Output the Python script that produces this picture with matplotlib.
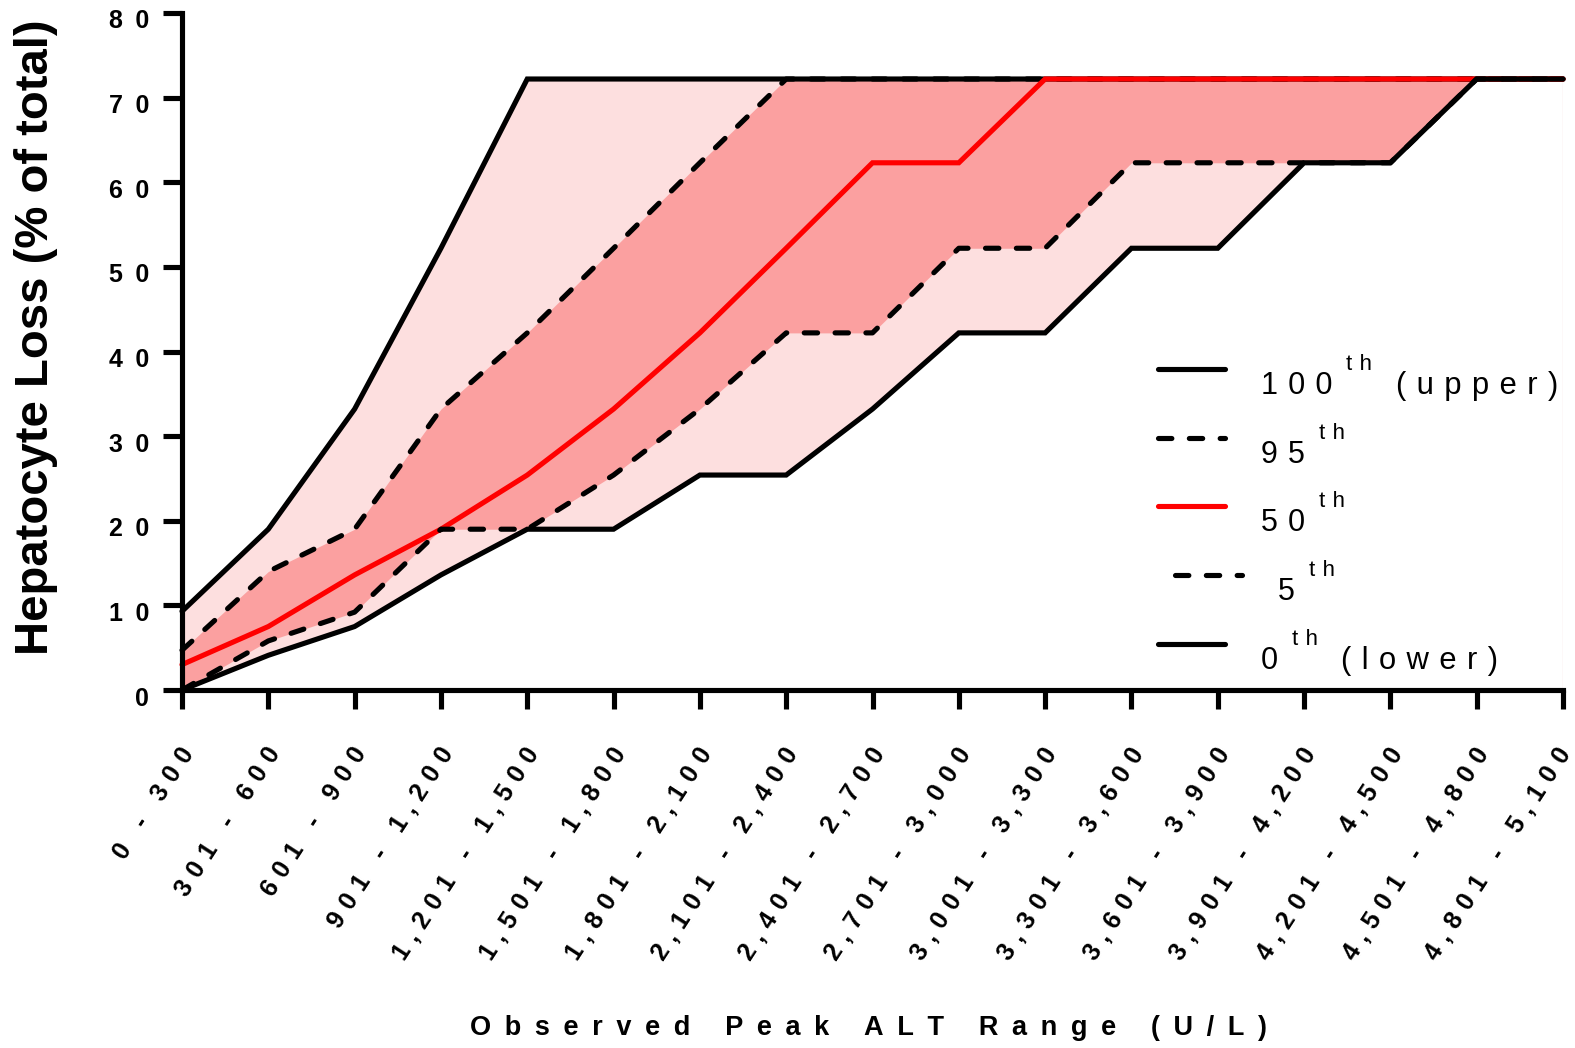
import matplotlib
matplotlib.use("Agg")
import matplotlib.pyplot as plt
import matplotlib.transforms as mtransforms
from matplotlib.lines import Line2D

plt.rcParams['font.family'] = ['Liberation Sans', 'DejaVu Sans']

# ---------------- data ----------------
categories = ["0 - 300", "301 - 600", "601 - 900", "901 - 1,200", "1,201 - 1,500",
              "1,501 - 1,800", "1,801 - 2,100", "2,101 - 2,400", "2,401 - 2,700",
              "2,701 - 3,000", "3,001 - 3,300", "3,301 - 3,600", "3,601 - 3,900",
              "3,901 - 4,200", "4,201 - 4,500", "4,501 - 4,800", "4,801 - 5,100"]

p100 = [9.3, 19.0, 33.2, 52.2, 72.2, 72.2, 72.2, 72.2, 72.2, 72.2, 72.2, 72.2, 72.2, 72.2, 72.2, 72.2, 72.2]
p95 = [4.7, 14.0, 19.0, 33.2, 42.2, 52.2, 62.3, 72.2, 72.2, 72.2, 72.2, 72.2, 72.2, 72.2, 72.2, 72.2, 72.2]
p50 = [3.0, 7.5, 13.6, 19.0, 25.4, 33.2, 42.2, 52.2, 62.3, 62.3, 72.2, 72.2, 72.2, 72.2, 72.2, 72.2, 72.2]
p5 = [0.0, 5.8, 9.2, 19.0, 19.0, 25.4, 33.2, 42.2, 42.2, 52.2, 52.2, 62.3, 62.3, 62.3, 62.3, 72.2, 72.2]
p0 = [0.0, 4.1, 7.5, 13.6, 19.0, 19.0, 25.4, 25.4, 33.2, 42.2, 42.2, 52.2, 52.2, 62.3, 62.3, 72.2, 72.2]

y_ticks = [0, 10, 20, 30, 40, 50, 60, 70, 80]
legend_numbers = ["100", "95", "50", "5", "0"]
legend_suffixes = ["(upper)", "", "", "", "(lower)"]
x_title = "Observed Peak ALT Range (U/L)"
y_title = "Hepatocyte Loss (% of total)"

# ---------------- style ----------------
W, H = 1575, 1048
LIGHT = '#FDDFDF'
DARK = '#FBA0A0'
LW = 3.7
DASH = (0, (2.6, 3.4))


def spaced(s, ch):
    return ch.join(s)


fig = plt.figure(figsize=(W / 100, H / 100), dpi=100)
ax = fig.add_axes([182 / W, 1 - 690 / H, (1563 - 182) / W, (690 - 13) / H])

xs = list(range(len(categories)))

ax.fill_between(xs, p0, p100, color=LIGHT, lw=0, zorder=1)
ax.fill_between(xs, p5, p95, color=DARK, lw=0, zorder=2)
ax.vlines(xs[-1], 0, p100[-1], color='#F6C8C8', lw=0.9, zorder=2)

series = [
    (p100, 'black', '-'),
    (p95, 'black', DASH),
    (p50, '#FF0000', '-'),
    (p5, 'black', DASH),
    (p0, 'black', '-'),
]
for i, (vals, col, ls) in enumerate(series):
    ax.plot(xs, vals, color=col, lw=LW, linestyle=ls, dash_capstyle='round',
            solid_capstyle='round', solid_joinstyle='miter', zorder=3 + i, clip_on=False)

ax.set_xlim(0, len(categories) - 1)
ax.set_ylim(0, 80)
for s in ['top', 'right']:
    ax.spines[s].set_visible(False)
for s in ['left', 'bottom']:
    ax.spines[s].set_linewidth(LW)
    ax.spines[s].set_zorder(10)

ax.tick_params(axis='both', direction='out', width=LW, length=13.5)
ax.tick_params(axis='y', pad=10)
ax.tick_params(axis='x', pad=29.5)

ax.set_yticks(y_ticks)
ax.set_yticklabels([spaced(str(v), '\u2002') for v in y_ticks],
                   fontsize=18, fontweight='bold')
yoff = mtransforms.ScaledTranslation(0, -6 / 100, fig.dpi_scale_trans)
for lab in ax.get_yticklabels():
    lab.set_transform(lab.get_transform() + yoff)

ax.set_xticks(xs)
ax.set_xticklabels([spaced(c, '\u2004') for c in categories], fontsize=18,
                   fontweight='bold', rotation=57, rotation_mode='anchor',
                   ha='right', va='center')
xlabels = ax.get_xticklabels()
for k, lab in enumerate(xlabels):
    dx = 3 if k == len(xlabels) - 1 else 7
    lab.set_transform(lab.get_transform()
                      + mtransforms.ScaledTranslation(dx / 100, 0, fig.dpi_scale_trans))

ax.set_xlabel(spaced(x_title, '\u2002'), fontsize=19.5, fontweight='bold', va='center')
ax.xaxis.set_label_coords((868 - 182) / 1381, (690 - 1028) / 677)
ax.set_ylabel(y_title, fontsize=34, fontweight='bold', va='center')
ax.yaxis.set_label_coords((36 - 182) / 1381, (690 - 337) / 677)

# ---------------- legend (drawn manually) ----------------
row_y = [369, 438, 506, 575, 644]
for i, (num, suf) in enumerate(zip(legend_numbers, legend_suffixes)):
    y = row_y[i]
    shift = 17 if i == 3 else 0
    col, ls = series[i][1], series[i][2]
    ln = Line2D([(1157.5 + shift) / W, (1224.5 + shift) / W], [1 - y / H, 1 - y / H],
                transform=fig.transFigure, color=col, lw=LW, linestyle=ls,
                dash_capstyle='round', solid_capstyle='round')
    fig.add_artist(ln)
    base = y + 25
    t1 = fig.text((1261 + shift) / W, 1 - base / H, spaced(num, '\u2004'), fontsize=22,
                  ha='left', va='baseline')
    t2 = ax.annotate(spaced('th', '\u2004'), xy=(1, H - base + 24), xycoords=(t1, 'figure pixels'),
                     xytext=(14, 0), textcoords='offset pixels', fontsize=16,
                     ha='left', va='baseline', annotation_clip=False)
    if suf:
        ax.annotate(spaced(suf, '\u2004'), xy=(1, H - base), xycoords=(t2, 'figure pixels'),
                    xytext=(23, 0), textcoords='offset pixels', fontsize=22.3,
                    ha='left', va='baseline', annotation_clip=False)

fig.savefig('out.png', dpi=100)
